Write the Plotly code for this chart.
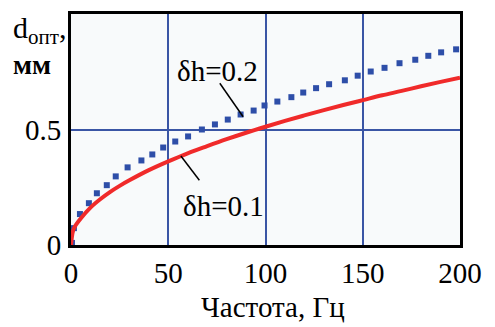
import plotly.graph_objects as go

# Data
freq_01 = [0, 1, 2, 5, 10, 15, 20, 25, 30, 40, 50, 60, 70, 80, 90, 100,
           110, 120, 130, 140, 150, 160, 170, 180, 190, 200]
d_01 = [0.0, 0.06, 0.08, 0.115, 0.162, 0.198, 0.229, 0.256, 0.28, 0.324, 0.362,
        0.397, 0.428, 0.458, 0.486, 0.512, 0.537, 0.561, 0.584, 0.606, 0.627,
        0.648, 0.667, 0.687, 0.706, 0.724]

freq_02 = [0.5, 1.5, 4.6, 9.2, 13.3, 18.4, 23.0, 29.1, 36.2, 41.8, 47.4, 53.6,
           60.2, 67.3, 74.0, 80.6, 87.2, 93.9, 99.5, 106.1, 113.3, 119.4, 126.0,
           132.7, 140.8, 147.4, 154.1, 161.2, 168.9, 177.0, 183.7, 190.3, 198.0]
d_02 = [0.009, 0.073, 0.134, 0.181, 0.224, 0.259, 0.297, 0.336, 0.366, 0.392,
        0.422, 0.448, 0.470, 0.500, 0.522, 0.543, 0.565, 0.582, 0.604, 0.621,
        0.640, 0.660, 0.679, 0.696, 0.713, 0.733, 0.751, 0.767, 0.787, 0.802,
        0.819, 0.834, 0.847]

x_ticks = [0, 50, 100, 150, 200]
x_tick_labels = ["0", "50", "100", "150", "200"]
y_ticks = [0, 0.5]
y_tick_labels = ["0", "0.5"]

FONT = "Liberation Serif"
GRID = "#3a55a5"

fig = go.Figure()
fig.add_trace(go.Scatter(x=freq_02, y=d_02, mode="markers",
                         marker=dict(symbol="square", size=6, color="#2e4ea8"),
                         showlegend=False))
fig.add_trace(go.Scatter(x=freq_01, y=d_01, mode="lines",
                         line=dict(color="#f02a2a", width=4, shape="spline"),
                         showlegend=False))

# leader lines
fig.add_shape(type="line", x0=76.5, y0=0.70, x1=88.5, y1=0.555,
              line=dict(color="black", width=1.5))
fig.add_shape(type="line", x0=56.5, y0=0.385, x1=66, y1=0.28,
              line=dict(color="black", width=1.5))

fig.add_annotation(x=75.5, y=0.755, text="δh=0.2", showarrow=False,
                   font=dict(family=FONT, size=29, color="black"))
fig.add_annotation(x=78.5, y=0.17, text="δh=0.1", showarrow=False,
                   font=dict(family=FONT, size=29, color="black"))

# y-axis title
fig.add_annotation(xref="paper", yref="paper", x=-0.155, y=0.93, xanchor="left",
                   yanchor="middle", text="d<sub>опт</sub>,", showarrow=False,
                   font=dict(family=FONT, size=30, color="black"))
fig.add_annotation(xref="paper", yref="paper", x=-0.155, y=0.78, xanchor="left",
                   yanchor="middle", text="<b>мм</b>", showarrow=False,
                   font=dict(family=FONT, size=28, color="black"))
# x-axis title
fig.add_annotation(xref="paper", yref="paper", x=0.52, y=-0.268, xanchor="center",
                   yanchor="middle", text="Частота, Гц", showarrow=False,
                   font=dict(family=FONT, size=29, color="black"))

fig.update_xaxes(range=[0, 200], tickvals=x_ticks, ticktext=x_tick_labels,
                 showgrid=True, gridcolor=GRID, gridwidth=2, zeroline=False,
                 showline=True, linecolor="black", linewidth=3, mirror=True,
                 ticks="", ticklabelstandoff=0, automargin=False,
                 tickfont=dict(family=FONT, size=29, color="black"))
fig.update_yaxes(range=[0, 1.0], tickvals=y_ticks, ticktext=y_tick_labels,
                 showgrid=True, gridcolor=GRID, gridwidth=2, zeroline=False,
                 showline=True, linecolor="black", linewidth=3, mirror=True,
                 ticks="", ticklabelstandoff=1, automargin=False,
                 tickfont=dict(family=FONT, size=29, color="black"))

fig.update_layout(width=495, height=327,
                  margin=dict(l=71, r=35, t=14, b=82),
                  paper_bgcolor="white", plot_bgcolor="#f8fafb",
                  font=dict(family=FONT))

fig.write_html("out.html")
